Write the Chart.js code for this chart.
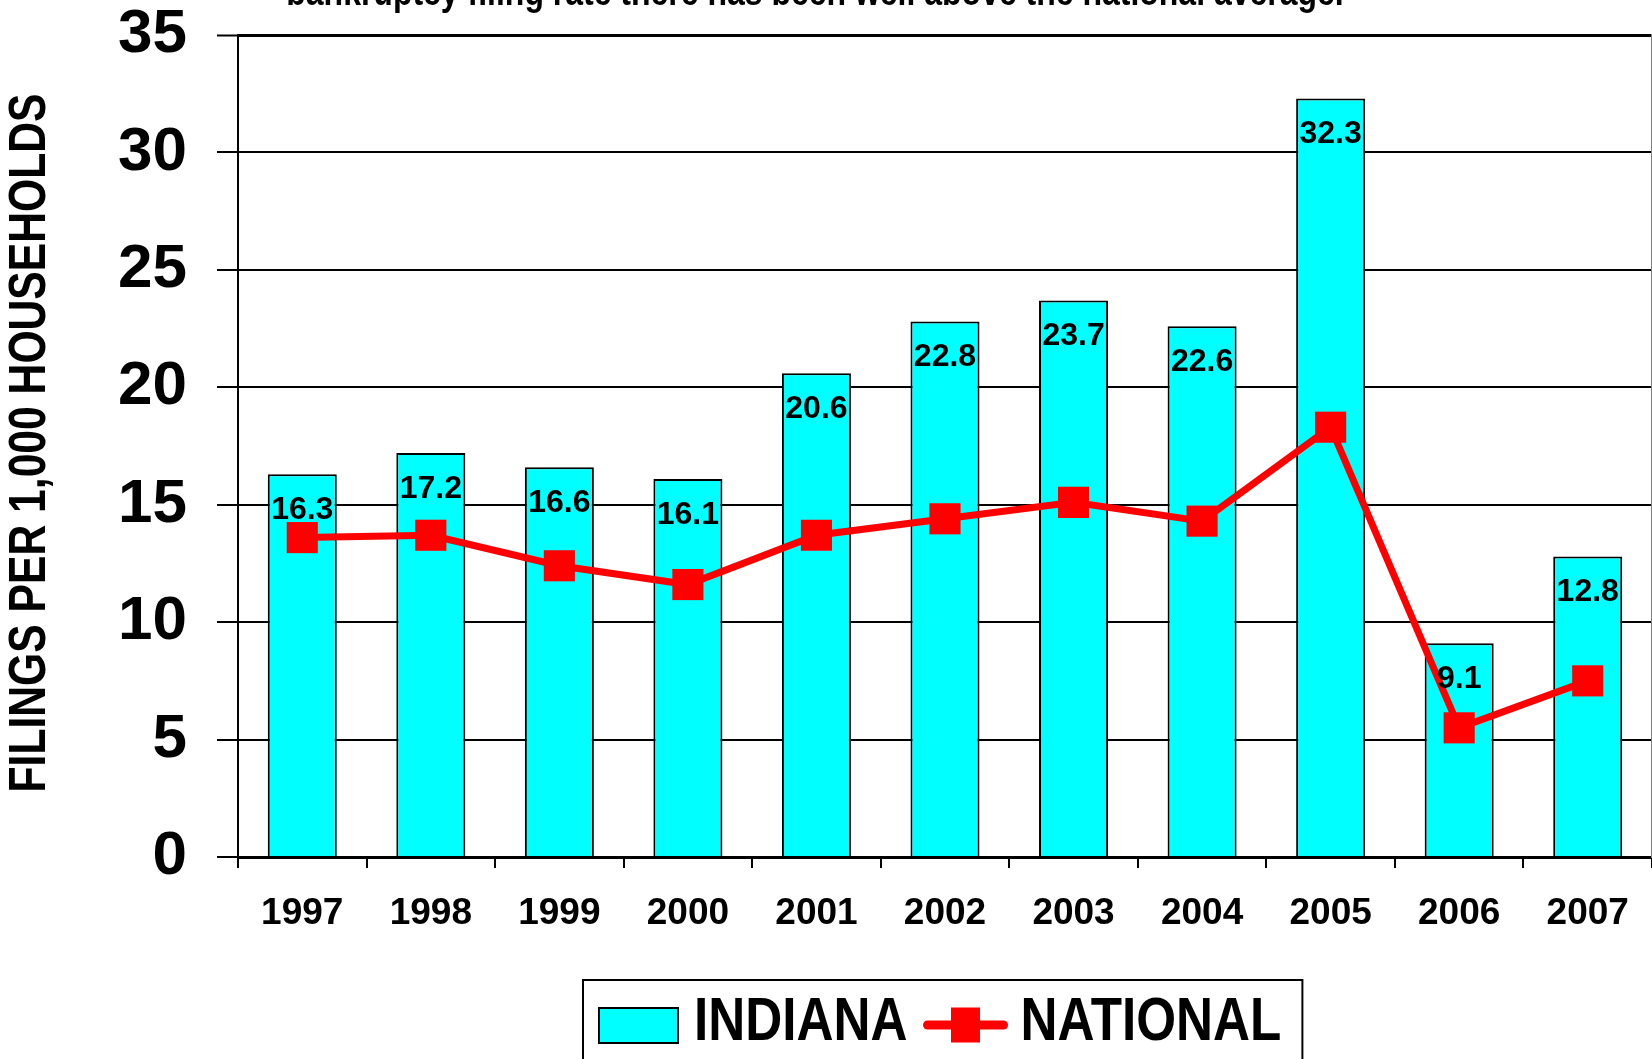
<!DOCTYPE html>
<html>
<head>
<meta charset="utf-8">
<title>Bankruptcy filings per 1,000 households</title>
<script src="https://cdn.jsdelivr.net/npm/chart.js@4.4.1/dist/chart.umd.min.js"></script>
<style>
  html, body { margin: 0; padding: 0; background: #fff; }
  #wrap { width: 1652px; height: 1059px; position: relative; }
</style>
</head>
<body>
<div id="wrap"><canvas id="chartFilings"></canvas></div>
<script>
// data
const years = ['1997', '1998', '1999', '2000', '2001', '2002', '2003', '2004', '2005', '2006', '2007'];
const indiana = [16.3, 17.2, 16.6, 16.1, 20.6, 22.8, 23.7, 22.6, 32.3, 9.1, 12.8];
const national = [13.6, 13.7, 12.4, 11.6, 13.7, 14.4, 15.1, 14.3, 18.3, 5.5, 7.5];
const yTicks = [0, 5, 10, 15, 20, 25, 30, 35];
const seriesNames = ['INDIANA', 'NATIONAL'];
const subtitleText = 'bankruptcy filing rate there has been well above the national average.';
const yTitle = 'FILINGS PER 1,000 HOUSEHOLDS';

const regular = "'Liberation Sans', Arial, sans-serif";
// no narrow face installed, so squeeze the regular one
const narrowScale = 0.82;
const legendScale = 0.84;

Chart.defaults.font.family = regular;
Chart.defaults.color = '#000';

// draws text squeezed along its own direction
function drawNarrow(g, text, x, y, size, sx, align, baseline, rotate) {
    g.save();
    g.translate(x, y);
    if (rotate) g.rotate(-Math.PI / 2);
    g.scale(sx, 1);
    g.font = 'bold ' + size + 'px ' + regular;
    g.fillStyle = '#000';
    g.textAlign = align;
    g.textBaseline = baseline;
    g.fillText(text, 0, 0);
    g.restore();
}
function narrowWidth(g, text, size, sx) {
    g.save();
    g.font = 'bold ' + size + 'px ' + regular;
    const w = g.measureText(text).width * sx;
    g.restore();
    return w;
}

// value labels inside the top of each bar
const barValueLabels = {
    id: 'barValueLabels',
    afterDatasetsDraw(chart) {
        const ctx = chart.ctx;
        const meta = chart.getDatasetMeta(0);
        ctx.save();
        ctx.font = 'bold 32px ' + regular;
        ctx.fillStyle = '#000';
        ctx.textAlign = 'center';
        ctx.textBaseline = 'middle';
        meta.data.forEach((bar, i) => {
            ctx.fillText(indiana[i].toFixed(1), bar.x, bar.y + 36);
        });
        ctx.restore();
    }
};

// cut-off subtitle, axis title and framed legend, all in the narrow face
const narrowTexts = {
    id: 'narrowTexts',
    afterDraw(chart) {
        const ctx = chart.ctx;
        const area = chart.chartArea;

        drawNarrow(ctx, subtitleText, chart.width / 2 - 11, 5, 39, narrowScale, 'center', 'alphabetic', false);
        drawNarrow(ctx, yTitle, 31, (area.top + area.bottom) / 2 - 3, 52, narrowScale, 'center', 'middle', true);

        // legend
        const fs = 61;
        const w1 = narrowWidth(ctx, seriesNames[0], fs, legendScale);
        const w2 = narrowWidth(ctx, seriesNames[1], fs, legendScale);
        const total = 79 + 16 + w1 + 16 + 84 + 13 + w2;
        const x0 = area.left + 361;
        const cy = area.bottom + 166;

        ctx.save();
        ctx.strokeStyle = '#000';
        ctx.lineWidth = 2;
        ctx.strokeRect(x0 - 16, cy - 43, total + 37, 200);

        // bar swatch
        ctx.fillStyle = '#00FFFF';
        ctx.fillRect(x0, cy - 15, 79, 35);
        ctx.strokeRect(x0, cy - 15, 79, 35);
        drawNarrow(ctx, seriesNames[0], x0 + 95, cy, fs, legendScale, 'left', 'middle', false);

        // line swatch
        const lx = x0 + 95 + w1 + 16;
        ctx.strokeStyle = '#FF0000';
        ctx.lineWidth = 9;
        ctx.lineCap = 'round';
        ctx.beginPath();
        ctx.moveTo(lx + 4, cy + 2);
        ctx.lineTo(lx + 80, cy + 2);
        ctx.stroke();
        ctx.fillStyle = '#FF0000';
        ctx.fillRect(lx + 42 - 14.5, cy + 2 - 17.5, 29, 35);
        ctx.restore();
        drawNarrow(ctx, seriesNames[1], lx + 97, cy, fs, legendScale, 'left', 'middle', false);
    }
};

const ctx = document.getElementById('chartFilings').getContext('2d');
const myChart = new Chart(ctx, {
    data: {
        labels: years,
        datasets: [{
            type: 'bar',
            label: seriesNames[0],
            data: indiana,
            backgroundColor: '#00FFFF',
            borderColor: '#000',
            borderWidth: 2,
            barPercentage: 0.537,
            categoryPercentage: 1,
            order: 2
        },
        {
            type: 'line',
            label: seriesNames[1],
            data: national,
            borderColor: '#FF0000',
            backgroundColor: '#FF0000',
            borderWidth: 7,
            pointStyle: 'rect',
            pointRadius: 22,
            pointHoverRadius: 22,
            pointBackgroundColor: '#FF0000',
            pointBorderColor: '#FF0000',
            pointBorderWidth: 0,
            tension: 0,
            fill: false,
            order: 1
        }]
    },
    options: {
        responsive: true,
        maintainAspectRatio: false,
        animation: false,
        layout: { autoPadding: false, padding: { top: 35, left: 0, right: 0, bottom: 119 } },
        plugins: {
            tooltip: { enabled: false },
            title: { display: false },
            legend: { display: false }
        },
        scales: {
            x: {
                offset: true,
                grid: { offset: true, drawOnChartArea: false, drawTicks: true, tickLength: 11, color: '#000', lineWidth: 2 },
                border: { display: true, color: '#000', width: 3 },
                ticks: { font: { size: 37, weight: 'bold' }, color: '#000', padding: 24, maxRotation: 0, autoSkip: false },
                afterFit: s => {
                    s.height = 83;
                    s.paddingLeft = 0;
                    s.paddingRight = 0;
                }
            },
            y: {
                min: yTicks[0],
                max: yTicks[yTicks.length - 1],
                afterBuildTicks: s => { s.ticks = yTicks.map(v => ({ value: v })); },
                ticks: { font: { size: 62, weight: 'bold', lineHeight: 1 }, color: '#000', padding: 30 },
                grid: {
                    color: '#000',
                    lineWidth: c => (c.tick && c.tick.value === yTicks[yTicks.length - 1]) ? 3 : 2,
                    tickLength: 21,
                    tickColor: '#000',
                    tickWidth: 2
                },
                border: { display: true, color: '#000', width: 2 },
                afterFit: s => {
                    s.width = 238;
                    s.paddingTop = 31;
                    s.paddingBottom = 31;
                }
            },
            yRight: {
                position: 'right',
                min: yTicks[0],
                max: yTicks[yTicks.length - 1],
                ticks: { display: false },
                grid: { display: false, drawTicks: false },
                border: { display: true, color: '#7f7f7f', width: 2 },
                afterFit: s => { s.width = 0; }
            }
        }
    },
    plugins: [barValueLabels, narrowTexts]
});
</script>
</body>
</html>
